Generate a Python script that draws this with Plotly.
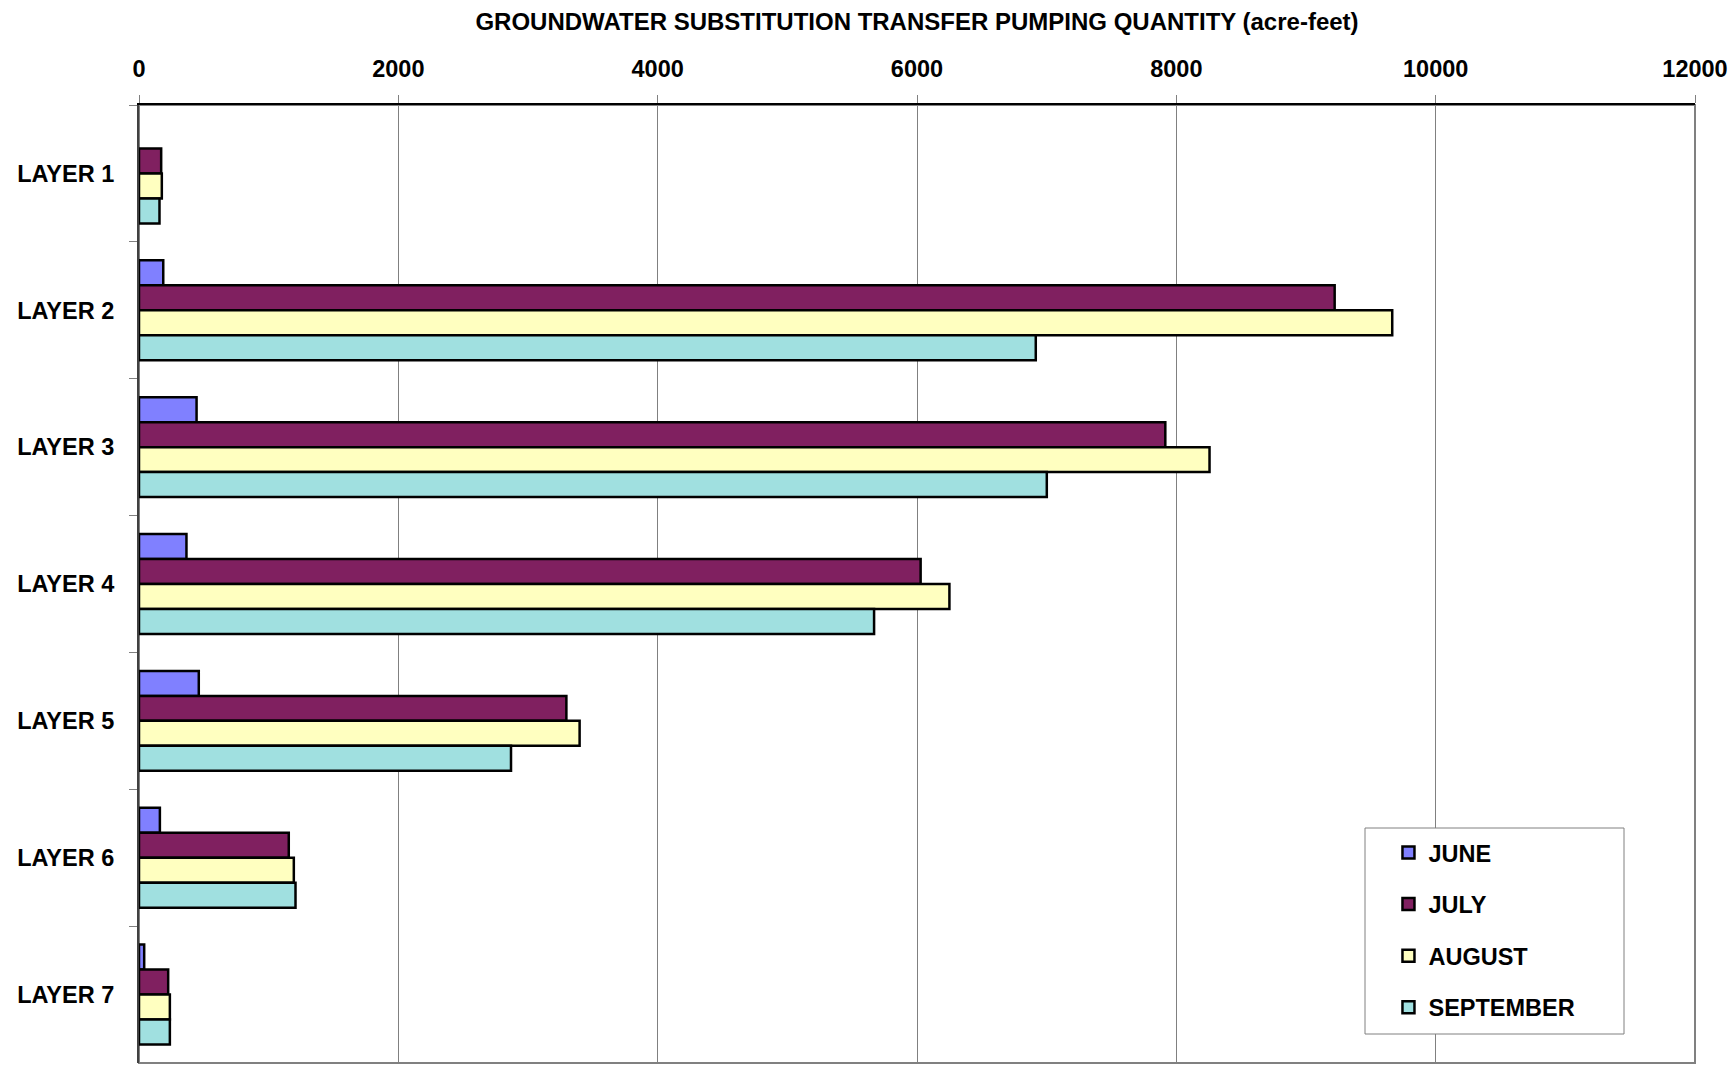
import plotly.graph_objects as go

layers = ["LAYER 1", "LAYER 2", "LAYER 3", "LAYER 4", "LAYER 5", "LAYER 6", "LAYER 7"]
june = [None, 187, 444, 366, 461, 161, 40]
july = [171, 9221, 7915, 6028, 3296, 1155, 225]
august = [176, 9665, 8256, 6250, 3398, 1194, 238]
september = [158, 6916, 7001, 5669, 2869, 1207, 238]
x_ticks = [0, 2000, 4000, 6000, 8000, 10000, 12000]
x_tick_labels = ["0", "2000", "4000", "6000", "8000", "10000", "12000"]

series = [
    ("JUNE", june, "#8080FF"),
    ("JULY", july, "#802060"),
    ("AUGUST", august, "#FFFFC0"),
    ("SEPTEMBER", september, "#A0E0E0"),
]

FONT = "Liberation Sans, Arial, sans-serif"

fig = go.Figure()
for name, vals, color in series:
    fig.add_trace(go.Bar(
        y=layers, x=vals, name=name, orientation="h",
        marker=dict(color=color, line=dict(color="#000000", width=2.5)),
        legendgroup=name,
    ))

fig.update_layout(
    width=1736, height=1065,
    margin=dict(l=139, r=41, t=105, b=2, autoexpand=False),
    paper_bgcolor="white", plot_bgcolor="white",
    barmode="group", bargap=0.27, bargroupgap=0,
    title=dict(
        text="GROUNDWATER SUBSTITUTION TRANSFER PUMPING QUANTITY (acre-feet)",
        x=0.5, xref="paper", xanchor="center",
        y=1 - 22 / 1065, yref="container", yanchor="middle",
        font=dict(family=FONT, size=24, color="#000000", weight="bold"),
    ),
    legend=dict(
        x=0.803, xanchor="left", y=0.2424, yanchor="top",
        bgcolor="rgba(0,0,0,0)", borderwidth=0,
        font=dict(family=FONT, size=23.5, color="#000000", weight="bold"),
        tracegroupgap=18, traceorder="grouped",
    ),
    showlegend=True,
)

fig.update_xaxes(
    side="top", range=[0, 12000], tickvals=x_ticks, ticktext=x_tick_labels,
    showgrid=True, gridcolor="#808080", gridwidth=1,
    ticks="outside", ticklen=8, tickcolor="#808080", tickwidth=1,
    showline=True, linecolor="#000000", linewidth=2,
    zeroline=False, automargin=False,
    tickfont=dict(family=FONT, size=23.5, color="#000000", weight="bold"),
    ticklabelstandoff=9,
)
fig.update_yaxes(
    autorange="reversed", tickson="boundaries",
    ticks="outside", ticklen=8, tickcolor="#808080", tickwidth=1,
    showgrid=False, showline=True, linecolor="#404040", linewidth=2,
    automargin=False,
    tickfont=dict(family=FONT, size=23.5, color="#000000", weight="bold"),
    ticklabelstandoff=18,
)

# plot area border (right / bottom in gray)
fig.add_shape(type="rect", xref="x domain", yref="y domain",
              x0=0, x1=1, y0=0, y1=1, line=dict(color="#808080", width=2),
              layer="below")
# legend box
fig.add_shape(type="rect", xref="paper", yref="paper",
              x0=(1365 - 139) / 1556, x1=(1624 - 139) / 1556,
              y0=(1063 - 1034) / 958, y1=(1063 - 828) / 958,
              line=dict(color="#808080", width=1), fillcolor="white",
              layer="above")

fig.write_html("out.html", config={"displayModeBar": False},
               post_script="document.body.style.margin='0';document.body.style.overflow='hidden';")
